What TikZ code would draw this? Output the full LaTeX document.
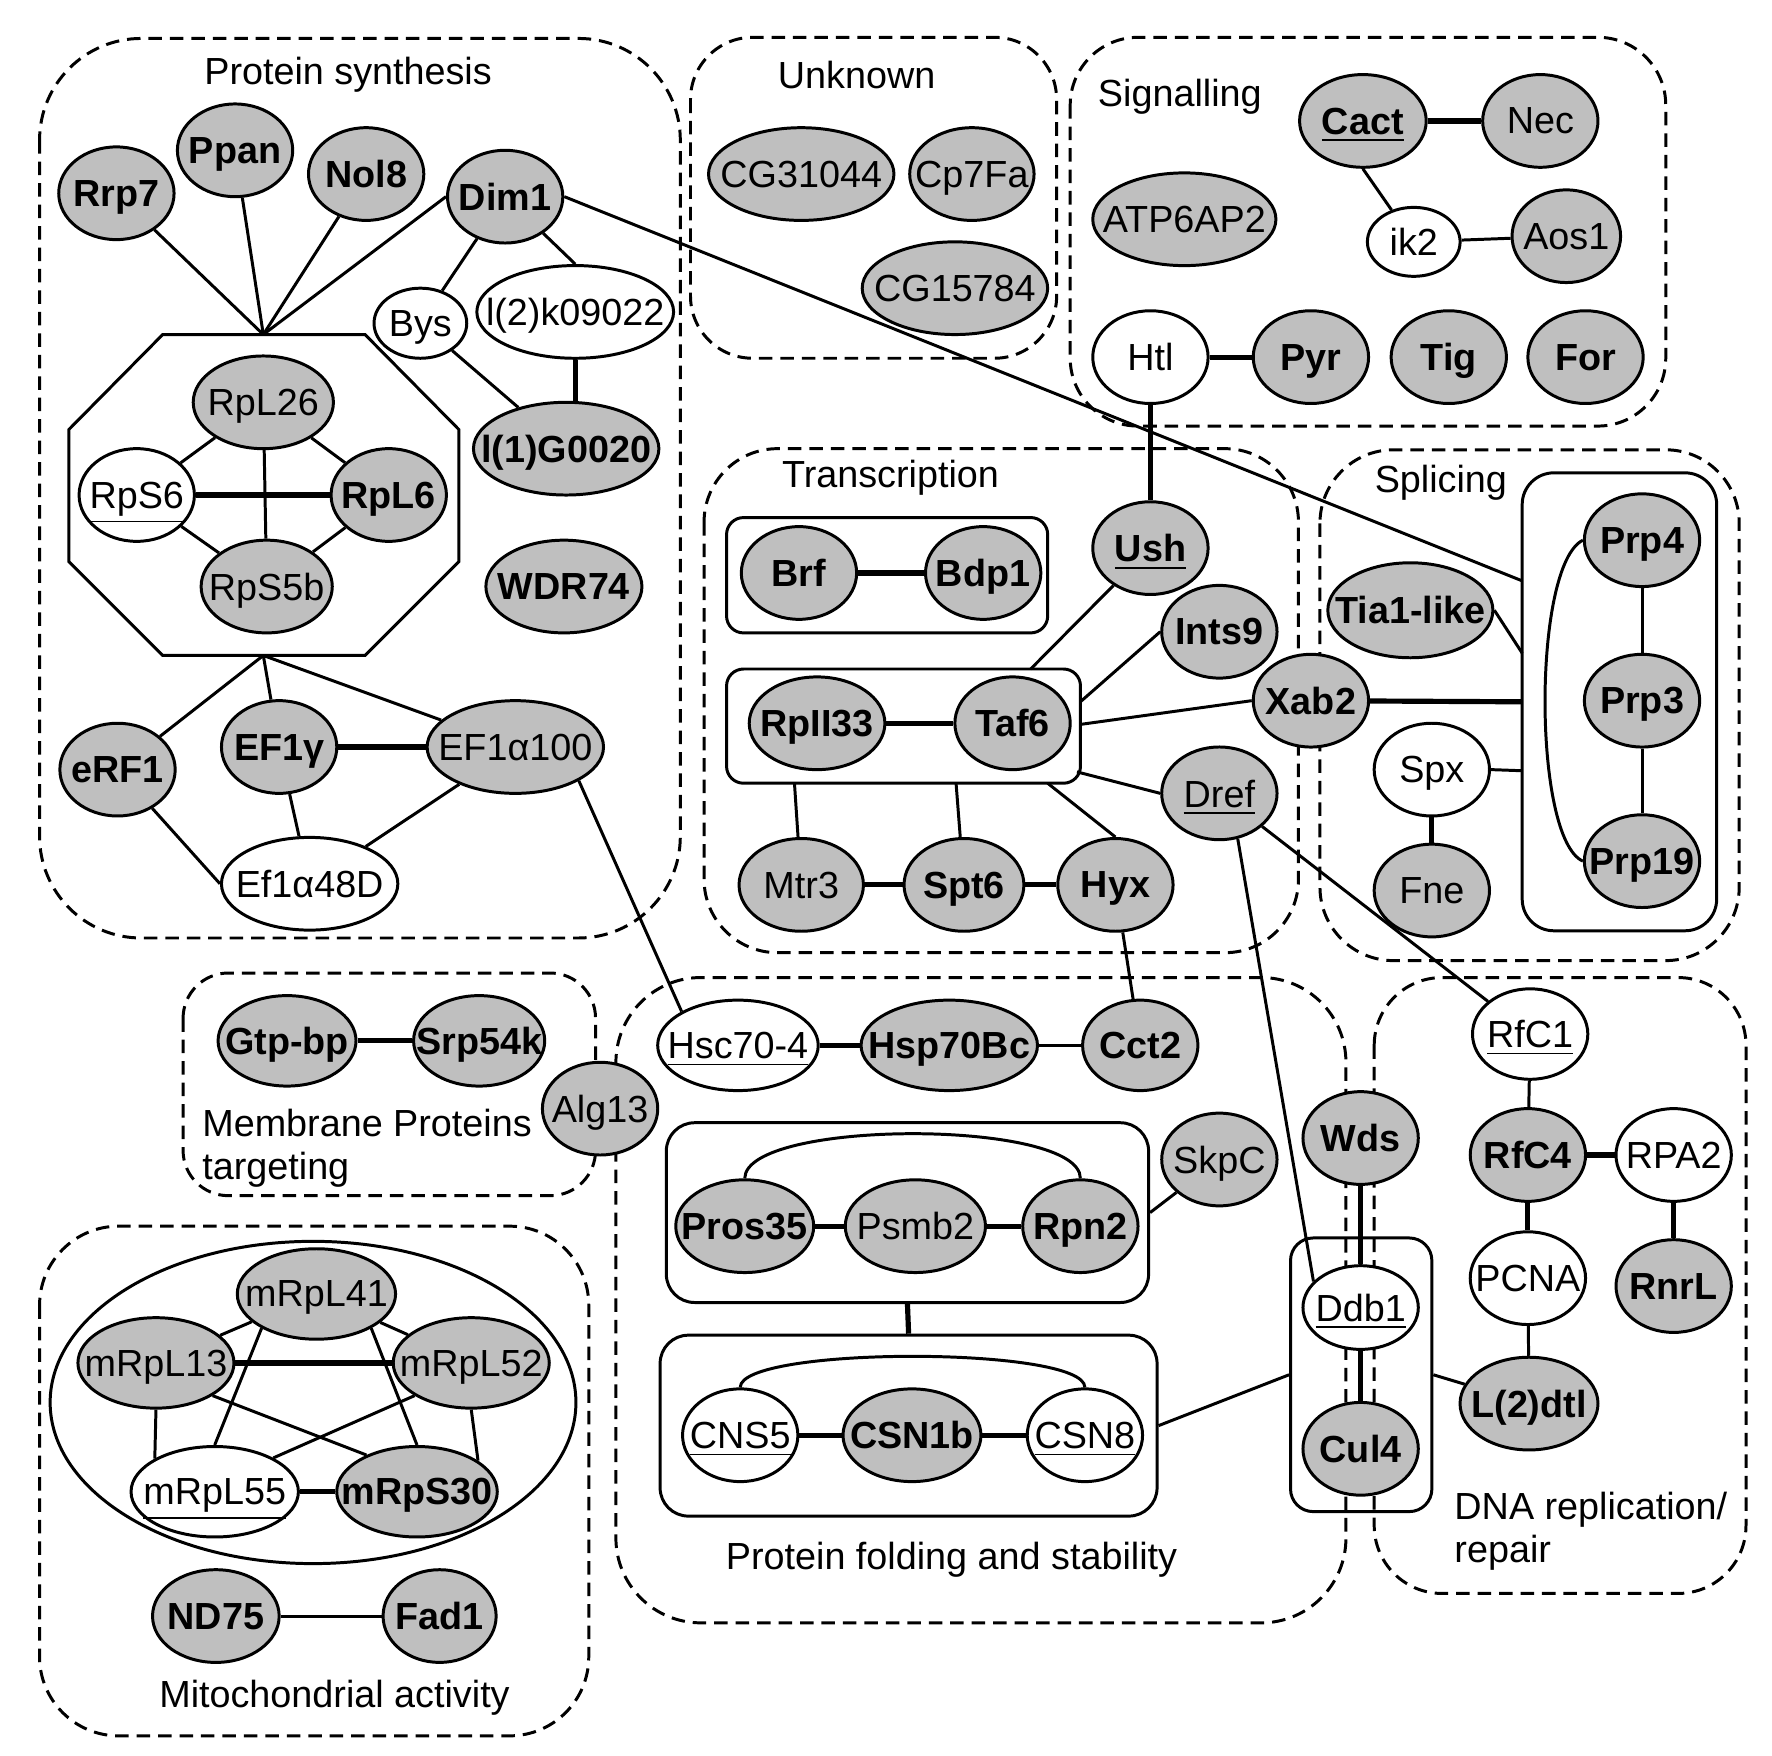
\documentclass[tikz,border=0pt]{standalone}
\usepackage{fontspec}
\setmainfont{Liberation Sans}
\usetikzlibrary{shapes.geometric}
\newcommand\labfont{\fontsize{9.5}{11}\selectfont}
\newcommand\pn[1]{\makebox[0pt]{\raisebox{0pt}[\height][0pt]{#1}}}

\begin{document}
\begin{tikzpicture}[x=0.01cm, y=-0.01cm, line width=0.75pt, font=\labfont,
	prot/.style = {draw, ellipse, inner sep=0pt, minimum width=1.02cm, minimum height=0.82cm},
	gp/.style = {prot, fill=black!25},
	gpb/.style = {gp, font=\labfont\bfseries},
	wp/.style = {prot, fill=white},
	zone/.style = {draw, dash pattern=on 3.4pt off 2pt},
	cplx/.style = {draw, rounded corners=0.15cm, inner sep=0pt},
	heavy/.style = {line width=1.3pt}]
	\useasboundingbox (0,0) rectangle (1568,1553);

	\draw[zone, rounded corners=0.9cm] (35,34) rectangle (602,830);
	\draw[zone, rounded corners=0.55cm] (611,33) rectangle (935,317);
	\draw[zone, rounded corners=0.6cm] (947,33) rectangle (1474,377);
	\draw[zone, rounded corners=0.65cm] (623,397) rectangle (1149,843);
	\draw[zone, rounded corners=0.65cm] (1168,398) rectangle (1539,850);
	\draw[zone, rounded corners=0.4cm] (162,861) rectangle (527,1058);
	\draw[zone, rounded corners=0.7cm] (35,1085) rectangle (521,1536);
	\draw[zone, rounded corners=0.75cm] (545,865) rectangle (1191,1436);
	\draw[zone, rounded corners=0.6cm] (1216,865) rectangle (1545,1410);

	\node (tsyn) at (308,66) {Protein synthesis};
	\node (tunk) at (758,66) {Unknown};
	\node (tsig) at (1044,86) {Signalling};
	\node (ttra) at (788,423) {Transcription};
	\node (tspl) at (1275,427) {Splicing};
	\node[align=left, anchor=west] (tmem) at (166,1016) {Membrane Proteins\\targeting};
	\node (tmit) at (296,1502) {Mitochondrial activity};
	\node (tfol) at (842,1380) {Protein folding and stability};
	\node[align=left, anchor=west] (tdna) at (1274,1355) {DNA replication/\\repair};

	\draw (144,296) -- (323,296) -- (406,380) -- (406,497) -- (323,580) -- (144,580) -- (61,497) -- (61,380) -- cycle;
	\coordinate (octn) at (233,296);
	\coordinate (octs) at (233,580);
	\draw (277,1241) ellipse [x radius=2.325cm, y radius=1.425cm];

	\node[cplx, minimum width=2.84cm, minimum height=1.02cm] (tcx1) at (785,509) {};
	\node[cplx, minimum width=3.13cm, minimum height=1.01cm] (tcx2) at (799.5,642.5) {};
	\node[cplx, rounded corners=0.28cm, minimum width=1.72cm, minimum height=4.05cm] (sbox) at (1433,621) {};
	\node[cplx, rounded corners=0.25cm, minimum width=4.265cm, minimum height=1.59cm] (pbox) at (803,1073) {};
	\node[cplx, rounded corners=0.25cm, minimum width=4.395cm, minimum height=1.6cm] (cbox) at (804,1261.5) {};
	\node[cplx, rounded corners=0.2cm, minimum width=1.25cm, minimum height=2.42cm] (dbox) at (1204.5,1216.5) {};
	\coordinate (sp1) at (1347,514);
	\coordinate (sp2) at (1347,578);
	\coordinate (sp3) at (1347,621);
	\coordinate (sp4) at (1347,682);
	\coordinate (tc1) at (912,592);
	\coordinate (tc2) at (956,621);
	\coordinate (tc3) at (956,641);
	\coordinate (tc4) at (953,683);
	\coordinate (tc5) at (703,693);
	\coordinate (tc6) at (846,693);
	\coordinate (tc7) at (927,693);

	\node[gpb] (rrp7) at (103,171) {\pn{Rrp7}};
	\node[gpb] (ppan) at (208,133) {\pn{Ppan}};
	\node[gpb] (nol8) at (324,154) {\pn{Nol8}};
	\node[gpb] (dim1) at (447,174) {\pn{Dim1}};
	\node[wp, minimum width=0.82cm, minimum height=0.62cm] (bys) at (372,286) {\pn{Bys}};
	\node[wp, minimum width=1.74cm] (lk09) at (509,276) {\pn{l(2)k09022}};
	\node[gpb, minimum width=1.64cm] (lg20) at (501,397) {\pn{l(1)G0020}};
	\node[gpb, minimum width=1.38cm] (wdr74) at (499,519) {\pn{WDR74}};
	\node[gp, minimum width=1.24cm] (rpl26) at (233,356) {\pn{RpL26}};
	\node[wp] (rps6) at (121,438) {\pn{\underline{RpS6}}};
	\node[gpb] (rpl6) at (344,438) {\pn{RpL6}};
	\node[gp, minimum width=1.16cm] (rps5b) at (236,519) {\pn{RpS5b}};
	\node[gpb] (erf1) at (104,681) {\pn{eRF1}};
	\node[gpb] (ef1g) at (247,661) {\pn{EF1γ}};
	\node[gp, minimum width=1.56cm] (ef1a100) at (456,661) {\pn{EF1α100}};
	\node[wp, minimum width=1.56cm] (ef1a48) at (274,782) {\pn{Ef1α48D}};

	\node[gp, minimum width=1.64cm] (cg31) at (709,154) {\pn{CG31044}};
	\node[gp, minimum width=1.10cm] (cp7fa) at (860,154) {\pn{Cp7Fa}};
	\node[gp, minimum width=1.64cm] (cg157) at (845,255) {\pn{CG15784}};

	\node[gpb, minimum width=1.12cm] (cact) at (1206,107) {\pn{\underline{Cact}}};
	\node[gp] (nec) at (1363,107) {\pn{Nec}};
	\node[gp, minimum width=1.62cm] (atp) at (1048,194) {\pn{ATP6AP2}};
	\node[wp, minimum width=0.82cm, minimum height=0.61cm] (ik2) at (1251,214) {\pn{ik2}};
	\node[gp, minimum width=0.96cm] (aos1) at (1386,209) {\pn{Aos1}};
	\node[wp] (htl) at (1018,316) {\pn{Htl}};
	\node[gpb] (pyr) at (1160,316) {\pn{Pyr}};
	\node[gpb] (tig) at (1282,316) {\pn{Tig}};
	\node[gpb] (forp) at (1403,316) {\pn{For}};

	\node[gpb] (brf) at (707,507) {\pn{Brf}};
	\node[gpb] (bdp1) at (870,507) {\pn{Bdp1}};
	\node[gpb, minimum width=1.20cm] (rpii) at (723,640) {\pn{RpII33}};
	\node[gpb] (taf6) at (896,640) {\pn{Taf6}};
	\node[gpb] (ush) at (1018,485) {\pn{\underline{Ush}}};
	\node[gpb] (ints9) at (1079,559) {\pn{Ints9}};
	\node[gpb] (xab2) at (1160,620) {\pn{Xab2}};
	\node[gp] (dref) at (1079,702) {\pn{\underline{Dref}}};
	\node[gp, minimum width=1.10cm] (mtr3) at (709,783) {\pn{Mtr3}};
	\node[gpb, minimum width=1.06cm] (spt6) at (853,783) {\pn{Spt6}};
	\node[gpb] (hyx) at (987,783) {\pn{Hyx}};

	\node[gpb] (prp4) at (1453,478) {\pn{Prp4}};
	\node[gpb] (prp3) at (1453,620) {\pn{Prp3}};
	\node[gpb] (prp19) at (1453,762) {\pn{Prp19}};
	\node[gpb, minimum width=1.46cm, minimum height=0.84cm] (tia) at (1248,540) {\pn{Tia1-like}};
	\node[wp] (spx) at (1267,681) {\pn{Spx}};
	\node[gp] (fne) at (1267,788) {\pn{Fne}};

	\node[gpb, minimum width=1.22cm, minimum height=0.8cm] (gtp) at (254,921) {\pn{Gtp-bp}};
	\node[gpb, minimum width=1.16cm, minimum height=0.8cm] (srp) at (424,921) {\pn{Srp54k}};
	\node[gp] (alg13) at (531,981) {\pn{Alg13}};

	\node[gp, minimum width=1.40cm, minimum height=0.8cm] (mrpl41) at (280,1145) {\pn{mRpL41}};
	\node[gp, minimum width=1.38cm, minimum height=0.8cm] (mrpl13) at (138,1206) {\pn{mRpL13}};
	\node[gp, minimum width=1.38cm, minimum height=0.8cm] (mrpl52) at (417,1206) {\pn{mRpL52}};
	\node[wp, minimum width=1.48cm, minimum height=0.8cm] (mrpl55) at (190,1320) {\pn{\underline{mRpL55}}};
	\node[gpb, minimum width=1.42cm, minimum height=0.8cm] (mrps30) at (369,1320) {\pn{mRpS30}};
	\node[gpb, minimum width=1.12cm] (nd75) at (191,1430) {\pn{ND75}};
	\node[gpb, minimum width=1.0cm] (fad1) at (389,1430) {\pn{Fad1}};

	\node[wp, minimum width=1.42cm, minimum height=0.8cm] (hsc) at (653,925) {\pn{\underline{Hsc70-4}}};
	\node[gpb, minimum width=1.56cm, minimum height=0.8cm] (hsp) at (840,925) {\pn{Hsp70Bc}};
	\node[gpb, minimum height=0.8cm] (cct2) at (1009,925) {\pn{Cct2}};
	\node[gpb, minimum width=1.22cm] (pros35) at (659,1085) {\pn{Pros35}};
	\node[gp, minimum width=1.24cm] (psmb2) at (810,1085) {\pn{Psmb2}};
	\node[gpb] (rpn2) at (956,1085) {\pn{Rpn2}};
	\node[gp] (skpc) at (1079,1026) {\pn{SkpC}};
	\node[wp] (cns5) at (655,1270) {\pn{\underline{CNS5}}};
	\node[gpb, minimum width=1.22cm] (csn1b) at (807,1270) {\pn{CSN1b}};
	\node[wp] (csn8) at (960,1270) {\pn{\underline{CSN8}}};

	\node[wp, minimum height=0.8cm] (rfc1) at (1354,915) {\pn{\underline{RfC1}}};
	\node[gpb] (rfc4) at (1352,1022) {\pn{RfC4}};
	\node[wp] (rpa2) at (1481,1022) {\pn{RPA2}};
	\node[wp] (pcna) at (1352,1131) {\pn{PCNA}};
	\node[gpb] (rnrl) at (1481,1138) {\pn{RnrL}};
	\node[gpb, minimum width=1.22cm] (l2dtl) at (1353,1242) {\pn{L(2)dtl}};
	\node[gpb] (wds) at (1204,1007) {\pn{Wds}};
	\node[wp, minimum height=0.74cm] (ddb1) at (1204,1157) {\pn{\underline{Ddb1}}};
	\node[gpb] (cul4) at (1204,1282) {\pn{Cul4}};

	\draw (rrp7) -- (octn);
	\draw (ppan) -- (octn);
	\draw (nol8) -- (octn);
	\draw (dim1.west) -- (octn);
	\draw (dim1) -- (bys);
	\draw (dim1) -- (lk09.north);
	\draw (bys) -- (lg20);
	\draw[heavy] (lk09.south) -- (lk09.south |- lg20.north);
	\draw (dim1.east) -- (sp1);
	\draw (rpl26) -- (rps6);
	\draw (rpl26) -- (rpl6);
	\draw (rpl26) -- (rps5b);
	\draw[heavy] (rps6) -- (rpl6);
	\draw (rps6) -- (rps5b);
	\draw (rpl6) -- (rps5b);
	\draw (octs) -- (erf1);
	\draw (octs) -- (ef1g);
	\draw (octs) -- (ef1a100);
	\draw[heavy] (ef1g) -- (ef1a100);
	\draw (erf1) -- (ef1a48.west);
	\draw (ef1g) -- (ef1a48);
	\draw (ef1a100) -- (ef1a48);
	\draw (ef1a100.332) -- (hsc.149);

	\draw[heavy] (cact) -- (nec);
	\draw (cact.south) -- (ik2);
	\draw (ik2) -- (aos1);
	\draw[heavy] (htl) -- (pyr);
	\draw[heavy] (htl) -- (ush);

	\draw[heavy] (brf) -- (bdp1);
	\draw[heavy] (rpii) -- (taf6);
	\draw[heavy] (mtr3) -- (spt6);
	\draw[heavy] (spt6) -- (hyx);
	\draw (tc1) -- (ush);
	\draw (tc2) -- (ints9.west);
	\draw (tc3) -- (xab2.west);
	\draw (tc4) -- (dref.west);
	\draw (tc5) -- (mtr3);
	\draw (tc6) -- (spt6);
	\draw (tc7) -- (hyx.north);
	\draw (hyx) -- (cct2);
	\draw (dref.292) -- (ddb1.151);
	\draw (dref) -- (rfc1);

	\draw[heavy] (xab2) -- (sp3);
	\draw (tia.east) -- (sp2);
	\draw (spx.east) -- (sp4);
	\draw[heavy] (spx) -- (fne);
	\draw (prp4) -- (prp3);
	\draw (prp3) -- (prp19);
	\draw (prp4.west) .. controls (1356,500) and (1356,742) .. (prp19.west);

	\draw[heavy] (gtp) -- (srp);

	\draw (mrpl41) -- (mrpl13);
	\draw (mrpl41) -- (mrpl52);
	\draw[heavy] (mrpl13) -- (mrpl52);
	\draw[heavy] (mrpl55) -- (mrps30);
	\draw (mrpl13.south) -- (mrpl55.151);
	\draw (mrpl52.south) -- (mrps30.27);
	\draw (mrpl41.212) -- (mrpl55.north);
	\draw (mrpl41.328) -- (mrps30.north);
	\draw (mrpl13.330) -- (mrps30.144);
	\draw (mrpl52.210) -- (mrpl55.30);
	\draw (nd75) -- (fad1);

	\draw[heavy] (hsc) -- (hsp);
	\draw (hsp) -- (cct2);
	\draw[heavy] (pros35) -- (psmb2);
	\draw[heavy] (psmb2) -- (rpn2);
	\draw (pros35.north) .. controls (660,990) and (956,990) .. (rpn2.north);
	\draw (pbox.east) -- (skpc);
	\draw[heavy] (pbox.south) -- (cbox.north);
	\draw[heavy] (cns5) -- (csn1b);
	\draw[heavy] (csn1b) -- (csn8);
	\draw (cns5.north) .. controls (655,1191) and (960,1191) .. (csn8.north);
	\draw (cbox.east) -- (dbox.west);

	\draw (rfc1) -- (rfc4);
	\draw[heavy] (rfc4) -- (rpa2);
	\draw[heavy] (rfc4) -- (pcna);
	\draw (pcna) -- (l2dtl);
	\draw[heavy] (rpa2) -- (rnrl);
	\draw (dbox.east) -- (l2dtl);
	\draw[heavy] (wds) -- (ddb1);
	\draw[heavy] (ddb1) -- (cul4);
\end{tikzpicture}
\end{document}
